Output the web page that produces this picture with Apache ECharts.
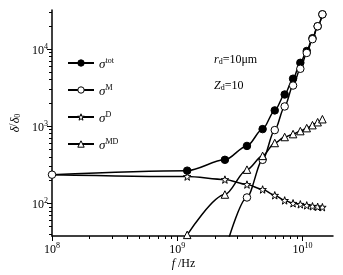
<!DOCTYPE html>
<html>
<head>
<meta charset="utf-8">
<script src="https://cdn.jsdelivr.net/npm/echarts@6/dist/echarts.min.js"></script>
<style>
  html, body { margin: 0; padding: 0; background: #fff; }
  #chart { width: 343px; height: 275px; }
</style>
</head>
<body>
<div id="chart"></div>
<script>
  // frequencies (Hz) of the computed points
  const freq = [1e8, 1.2e9, 2.4e9, 3.6e9, 4.8e9, 6.0e9, 7.2e9, 8.4e9, 9.6e9, 1.08e10, 1.2e10, 1.32e10, 1.44e10];
  // delta/delta0 for each component (null = not shown)
  const sigmaTot = [235, 265, 366, 554, 915, 1600, 2570, 4120, 6620, 9420, 13800, 19700, 28100];
  const sigmaM   = [null, null, 24, 119, 366, 889, 1800, 3360, 5540, 8890, 13400, 19700, 28100];
  const sigmaD   = [235, 222, 203, 175, 151, 127, 109, 100, 97, 94, 91.5, 90, 89];
  const sigmaMD  = [null, 39, 130, 273, 412, 605, 723, 789, 863, 943, 1030, 1125, 1230];
  const seriesNames = ['tot', 'M', 'D', 'MD'];

  // tick labels (powers of ten)
  const xTickExp = [8, 9, 10];
  const yTickExp = [2, 3, 4];

  const xMin = 1e8, xMax = 1.75e10;
  const yMin = 37.7, yMax = 32000;

  const FONT = 'Liberation Serif';
  const STAR = 'path://M0,-10 L2.351,-3.236 L9.511,-3.090 L3.804,1.236 L5.878,8.090 L0,4 L-5.878,8.090 L-3.804,1.236 L-9.511,-3.090 L-2.351,-3.236 Z';

  let myChart = echarts.init(document.getElementById('chart'));

  function minorTicks(lo, hi) {
    let out = [];
    for (let e = Math.floor(Math.log10(lo)); e <= Math.ceil(Math.log10(hi)); e++) {
      for (let k = 2; k <= 9; k++) {
        let v = k * Math.pow(10, e);
        if (v > lo && v < hi) out.push(Math.log10(v));
      }
    }
    return out;
  }

  const powRich = {
    b: { fontFamily: FONT, fontSize: 12, color: '#000', verticalAlign: 'bottom', lineHeight: 16 },
    e: { fontFamily: FONT, fontSize: 8, color: '#000', verticalAlign: 'bottom', lineHeight: 16, padding: [0, 0, 6, 0] }
  };

  // helper axis, only draws ticks / labels in log10 space
  function tickAxis(pos, lo, hi, ticks, len, labels) {
    return {
      type: 'value',
      position: pos,
      min: Math.log10(lo),
      max: Math.log10(hi),
      axisLine: { show: false, onZero: false },
      splitLine: { show: false },
      axisTick: { show: true, customValues: ticks, length: len, lineStyle: { color: '#000', width: 1 } },
      axisLabel: labels ? {
        show: true,
        customValues: labels,
        margin: 4,
        formatter: v => '{b|10}{e|' + v + '}',
        rich: powRich
      } : { show: false }
    };
  }

  function mkSeries(name, values, symbol, fill) {
    let data = [];
    freq.forEach((f, i) => {
      if (values[i] != null) data.push([f, values[i]]);
    });
    return {
      name: name,
      type: 'line',
      xAxisIndex: 0,
      yAxisIndex: 0,
      data: data,
      symbol: symbol,
      symbolSize: 7.5,
      showAllSymbol: true,
      smooth: 0.3,
      smoothMonotone: 'x',
      clip: true,
      lineStyle: { color: '#000', width: 1.5 },
      itemStyle: { color: fill, borderColor: '#000', borderWidth: 1 }
    };
  }

  let sTot = mkSeries('tot', sigmaTot, 'circle', '#000');
  sTot.data[0] = { value: sTot.data[0], itemStyle: { color: '#fff' } };
  let sD = mkSeries('D', sigmaD, STAR, '#fff');
  sD.data[0] = { value: sD.data[0], symbol: 'none' };

  let legendData = seriesNames.map(n => {
    let fill = n === 'tot' ? '#000' : '#fff';
    return { name: n, itemStyle: { color: fill, borderColor: '#000', borderWidth: 1 } };
  });

  let options = {
    backgroundColor: '#fff',
    animation: false,
    grid: { left: 48, right: 10, top: 10, bottom: 36 },
    legend: {
      orient: 'vertical',
      left: 62,
      top: 52,
      itemWidth: 26,
      itemHeight: 8,
      itemGap: 13,
      data: legendData,
      formatter: n => '{s|σ}{u|' + n + '}',
      textStyle: {
        color: '#000',
        rich: {
          s: { fontFamily: FONT, fontSize: 13, fontStyle: 'italic', color: '#000', verticalAlign: 'bottom', lineHeight: 16 },
          u: { fontFamily: FONT, fontSize: 8, color: '#000', verticalAlign: 'bottom', lineHeight: 16, padding: [0, 0, 6, 0] }
        }
      }
    },
    xAxis: [
      {
        type: 'log',
        min: xMin,
        max: xMax,
        position: 'bottom',
        axisLine: { onZero: false, lineStyle: { color: '#000', width: 1.5 } },
        axisTick: { show: false },
        axisLabel: { show: false },
        splitLine: { show: false },
        name: '{i|f} /Hz',
        nameLocation: 'middle',
        nameGap: 22,
        nameTextStyle: {
          padding: [0, 18, 0, 0],
          rich: {
            i: { fontFamily: FONT, fontSize: 12, fontStyle: 'italic', color: '#000' }
          },
          fontFamily: FONT, fontSize: 12, color: '#000'
        }
      },
      tickAxis('bottom', xMin, xMax, minorTicks(xMin, xMax), 3, null),
      tickAxis('bottom', xMin, xMax, xTickExp, 5, xTickExp)
    ],
    yAxis: [
      {
        type: 'log',
        min: yMin,
        max: yMax,
        position: 'left',
        axisLine: { onZero: false, lineStyle: { color: '#000', width: 1.5 } },
        axisTick: { show: false },
        axisLabel: { show: false },
        splitLine: { show: false },
        name: '{i|δ}/{i|δ}{sub|0}',
        nameLocation: 'middle',
        nameGap: 30,
        nameRotate: 90,
        nameTextStyle: {
          rich: {
            i: { fontFamily: FONT, fontSize: 12, fontStyle: 'italic', color: '#000', verticalAlign: 'bottom', lineHeight: 16 },
            sub: { fontFamily: FONT, fontSize: 8, color: '#000', verticalAlign: 'bottom', lineHeight: 16 }
          },
          fontFamily: FONT, fontSize: 12, color: '#000'
        }
      },
      tickAxis('left', yMin, yMax, minorTicks(yMin, yMax), 3, null),
      tickAxis('left', yMin, yMax, yTickExp, 5, yTickExp)
    ],
    graphic: [
      {
        type: 'text',
        left: 214,
        top: 54,
        style: {
          text: '{i|r}{s|d}{n|=10μm}',
          rich: {
            i: { fontFamily: FONT, fontSize: 12, fontStyle: 'italic', fill: '#000', verticalAlign: 'bottom', lineHeight: 16 },
            s: { fontFamily: FONT, fontSize: 8, fill: '#000', verticalAlign: 'bottom', lineHeight: 16 },
            n: { fontFamily: FONT, fontSize: 12, fill: '#000', verticalAlign: 'bottom', lineHeight: 16 }
          }
        }
      },
      {
        type: 'text',
        left: 214,
        top: 80,
        style: {
          text: '{i|Z}{s|d}{n|=10}',
          rich: {
            i: { fontFamily: FONT, fontSize: 12, fontStyle: 'italic', fill: '#000', verticalAlign: 'bottom', lineHeight: 16 },
            s: { fontFamily: FONT, fontSize: 8, fill: '#000', verticalAlign: 'bottom', lineHeight: 16 },
            n: { fontFamily: FONT, fontSize: 12, fill: '#000', verticalAlign: 'bottom', lineHeight: 16 }
          }
        }
      }
    ],
    series: [
      sTot,
      mkSeries('M', sigmaM, 'circle', '#fff'),
      sD,
      mkSeries('MD', sigmaMD, 'triangle', '#fff')
    ]
  };

  myChart.setOption(options);
</script>
</body>
</html>
